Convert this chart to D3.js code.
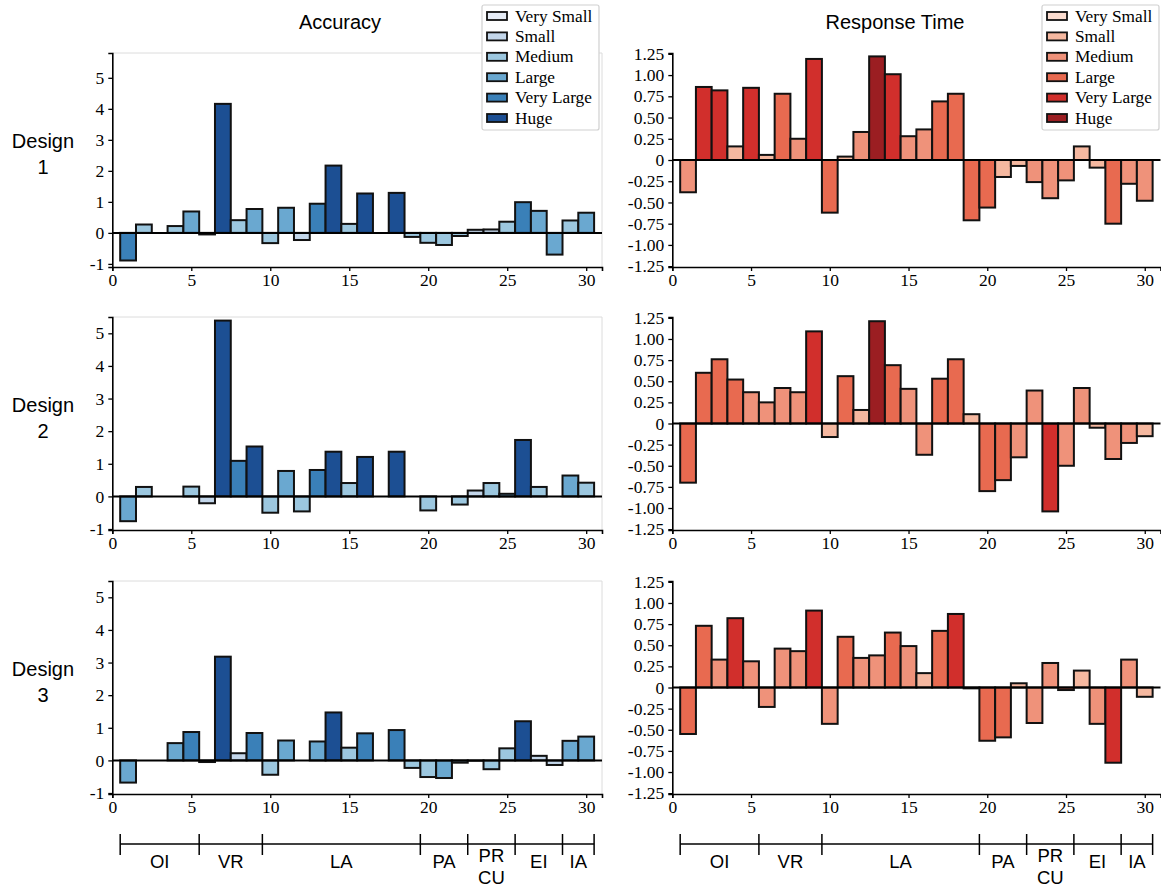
<!DOCTYPE html>
<html>
<head>
<meta charset="utf-8">
<script src="https://cdn.jsdelivr.net/npm/d3@7"></script>
<style>
body { margin: 0; background: #fff; }
</style>
</head>
<body>
<div id="chart"></div>
<script>
"use strict"

// questions 1..30
var items = d3.range(1, 31);

// size classes (index into sizeLabels)
var sizeLabels = ["Very Small", "Small", "Medium", "Large", "Very Large", "Huge"];
var blues = ["#e6ecf6", "#c3d6ea", "#9cc7df", "#6aa8d0", "#3a80b8", "#1c4f93"];
var reds = ["#fbdccf", "#f5b8a0", "#ef927a", "#e86a50", "#d12f2c", "#9b1e22"];

// accuracy effect per design
var acc1 = [-0.89, 0.27, 0, 0.22, 0.69, -0.05, 4.16, 0.41, 0.77, -0.33, 0.81, -0.23, 0.94, 2.17, 0.29,
	1.27, 0, 1.29, -0.13, -0.32, -0.39, -0.1, 0.1, 0.11, 0.36, 0.99, 0.71, -0.7, 0.4, 0.65];
var acc1Size = [4, 2, 0, 2, 3, 2, 5, 2, 3, 2, 3, 1, 4, 5, 2, 5, 0, 5, 2, 2, 2, 2, 1, 1, 2, 4, 3, 3, 2, 3];
var acc2 = [-0.76, 0.29, 0, 0, 0.3, -0.21, 5.39, 1.09, 1.53, -0.5, 0.78, -0.46, 0.81, 1.37, 0.41,
	1.21, 0, 1.37, 0, -0.43, 0, -0.25, 0.18, 0.41, 0.08, 1.73, 0.29, 0, 0.64, 0.42];
var acc2Size = [3, 2, 0, 0, 2, 1, 5, 4, 5, 2, 3, 2, 4, 5, 2, 5, 0, 5, 0, 2, 0, 2, 1, 2, 3, 5, 2, 0, 3, 2];
var acc3 = [-0.68, 0, 0, 0.53, 0.87, -0.05, 3.18, 0.22, 0.84, -0.44, 0.61, 0, 0.58, 1.47, 0.39,
	0.83, 0, 0.93, -0.23, -0.51, -0.54, -0.07, -0.01, -0.27, 0.37, 1.2, 0.14, -0.14, 0.6, 0.73];
var acc3Size = [3, 0, 0, 3, 4, 4, 5, 1, 4, 2, 3, 0, 3, 5, 2, 4, 0, 4, 2, 2, 3, 2, 2, 2, 2, 5, 1, 1, 3, 3];

// response time effect per design
var rt1 = [-0.38, 0.86, 0.82, 0.16, 0.85, 0.06, 0.78, 0.25, 1.19, -0.62, 0.04, 0.33, 1.22, 1.01, 0.28,
	0.36, 0.69, 0.78, -0.71, -0.56, -0.2, -0.07, -0.26, -0.45, -0.24, 0.16, -0.09, -0.75, -0.28, -0.48];
var rt1Size = [2, 4, 4, 1, 4, 1, 3, 2, 4, 3, 1, 2, 5, 4, 2, 2, 3, 3, 3, 3, 1, 1, 2, 2, 2, 1, 1, 3, 2, 2];
var rt2 = [-0.7, 0.6, 0.76, 0.52, 0.37, 0.25, 0.42, 0.37, 1.09, -0.16, 0.56, 0.16, 1.21, 0.69, 0.41,
	-0.37, 0.53, 0.76, 0.11, -0.8, -0.67, -0.4, 0.39, -1.04, -0.5, 0.42, -0.05, -0.42, -0.23, -0.15];
var rt2Size = [3, 3, 3, 3, 2, 2, 2, 2, 4, 1, 3, 1, 5, 3, 2, 2, 3, 3, 1, 3, 3, 2, 2, 4, 2, 2, 1, 2, 2, 1];
var rt3 = [-0.55, 0.73, 0.33, 0.82, 0.31, -0.23, 0.46, 0.43, 0.91, -0.43, 0.6, 0.35, 0.38, 0.65, 0.49,
	0.17, 0.67, 0.87, -0.01, -0.63, -0.59, 0.05, -0.42, 0.29, -0.03, 0.2, -0.43, -0.89, 0.33, -0.11];
var rt3Size = [3, 3, 2, 4, 2, 2, 2, 2, 4, 2, 3, 2, 2, 3, 2, 1, 3, 4, 2, 3, 3, 1, 2, 2, 3, 1, 2, 4, 2, 1];

// question groups along the bottom
var groupNames = ["OI", "VR", "LA", "PA", "PR\nCU", "EI", "IA"];
var groupEdges = [0.5, 5.5, 9.5, 19.5, 22.5, 25.5, 28.5, 30.5];

var accTicks = [-1, 0, 1, 2, 3, 4, 5];
var rtTicks = [-1.25, -1, -0.75, -0.5, -0.25, 0, 0.25, 0.5, 0.75, 1, 1.25];
var xTicks = [0, 5, 10, 15, 20, 25, 30];

var W = 1161, H = 891;
var rows = [[53, 267], [317, 530], [581, 794]];
var serif = "'Liberation Serif', 'Times New Roman', serif";

var svg = d3.select("#chart").append("svg")
	.attr("width", W)
	.attr("height", H)
	.style("font-family", "'Liberation Sans', Arial, sans-serif");

var panels = [
	{vals: acc1, sizes: acc1Size, row: 0, left: true, ydom: [-1.1, 5.8]},
	{vals: acc2, sizes: acc2Size, row: 1, left: true, ydom: [-1.03, 5.5]},
	{vals: acc3, sizes: acc3Size, row: 2, left: true, ydom: [-1.03, 5.5]},
	{vals: rt1, sizes: rt1Size, row: 0, left: false, ydom: [-1.26, 1.26]},
	{vals: rt2, sizes: rt2Size, row: 1, left: false, ydom: [-1.26, 1.26]},
	{vals: rt3, sizes: rt3Size, row: 2, left: false, ydom: [-1.26, 1.26]}
];

var xLeft = d3.scaleLinear().domain([0, 31]).range([112.3, 602]);
var xRight = d3.scaleLinear().domain([0, 31]).range([672.3, 1160.5]);

panels.forEach(function(p) {
	var x = p.left ? xLeft : xRight;
	var colors = p.left ? blues : reds;
	var r = rows[p.row];
	var y = d3.scaleLinear().domain(p.ydom).range([r[1], r[0]]);
	var g = svg.append("g");

	if (p.left) {
		// light top / right frame
		g.append("path")
			.attr("d", "M" + x(0) + "," + r[0] + "H" + x(31) + "V" + r[1])
			.attr("fill", "none")
			.attr("stroke", "#dcdcdc")
			.attr("stroke-width", 1);
	}

	var data = items.map(function(d, i) { return {i: d, v: p.vals[i], s: p.sizes[i]}; })
		.filter(function(d) { return d.v !== 0; });

	g.selectAll("rect.bar").data(data).enter().append("rect")
		.attr("class", "bar")
		.attr("x", function(d) { return x(d.i - 0.5); })
		.attr("width", function(d) { return x(d.i + 0.5) - x(d.i - 0.5); })
		.attr("y", function(d) { return y(Math.max(0, d.v)); })
		.attr("height", function(d) { return Math.abs(y(d.v) - y(0)); })
		.attr("fill", function(d) { return colors[d.s]; })
		.attr("stroke", "#111")
		.attr("stroke-width", 2);

	// zero line
	g.append("line")
		.attr("x1", x(0)).attr("x2", x(31))
		.attr("y1", y(0)).attr("y2", y(0))
		.attr("stroke", "#000")
		.attr("stroke-width", 2);

	var yAxis = d3.axisLeft(y)
		.tickValues(p.left ? accTicks : rtTicks)
		.tickSizeOuter(0)
		.tickSize(4)
		.tickPadding(4)
		.tickFormat(function(d) {
			if (p.left) return String(d);
			return d === 0 ? "0" : d.toFixed(2);
		});
	var ya = g.append("g").attr("transform", "translate(" + x(0) + ",0)").call(yAxis);

	var xAxis = d3.axisBottom(x)
		.tickValues(xTicks)
		.tickSizeOuter(0)
		.tickSize(4)
		.tickPadding(3);
	var xa = g.append("g").attr("transform", "translate(0," + r[1] + ")").call(xAxis);

	[ya, xa].forEach(function(a) {
		a.attr("font-family", serif).attr("font-size", 17.5);
		a.selectAll(".tick text")
			.attr("fill", "#000")
			.style("font-family", serif)
			.style("font-size", "17.5px");
		a.select(".domain").attr("stroke", "#000").attr("stroke-width", 1.6);
		a.selectAll(".tick line").attr("stroke", "#000").attr("stroke-width", 1.3);
	});
});

// titles
svg.append("text").attr("x", 340).attr("y", 29).attr("text-anchor", "middle")
	.attr("font-size", 20).text("Accuracy");
svg.append("text").attr("x", 895).attr("y", 29).attr("text-anchor", "middle")
	.attr("font-size", 20).text("Response Time");

// row labels
rows.forEach(function(r, k) {
	var cy = (r[0] + r[1]) / 2 - 12;
	var t = svg.append("text").attr("x", 43).attr("y", cy).attr("text-anchor", "middle")
		.attr("font-size", 20);
	t.append("tspan").attr("x", 43).attr("dy", 0).text("Design");
	t.append("tspan").attr("x", 43).attr("dy", 26).text(k + 1);
});

// legends
function legend(x0, colors) {
	var lg = svg.append("g").attr("transform", "translate(" + x0 + ",5)");
	lg.append("rect")
		.attr("x", 0).attr("y", 0)
		.attr("width", 117).attr("height", 125)
		.attr("rx", 2)
		.attr("fill", "#fff")
		.attr("stroke", "#d0d0d0")
		.attr("stroke-width", 1.2);
	var e = lg.selectAll("g.e").data(sizeLabels).enter().append("g")
		.attr("transform", function(d, i) { return "translate(0," + (11 + i * 20.4) + ")"; });
	e.append("rect")
		.attr("x", 5).attr("y", -4)
		.attr("width", 20).attr("height", 8)
		.attr("fill", function(d, i) { return colors[i]; })
		.attr("stroke", "#111")
		.attr("stroke-width", 1.8);
	e.append("text")
		.attr("x", 33).attr("y", 5.5)
		.style("font-family", serif)
		.attr("font-size", 17.3)
		.text(function(d) { return d; });
}
legend(482, blues);
legend(1042, reds);

// group bracket axes
[xLeft, xRight].forEach(function(x) {
	var g = svg.append("g");
	var yl = 844;
	g.append("line")
		.attr("x1", x(groupEdges[0])).attr("x2", x(groupEdges[groupEdges.length - 1]))
		.attr("y1", yl).attr("y2", yl)
		.attr("stroke", "#000").attr("stroke-width", 1.5);
	g.selectAll("line.edge").data(groupEdges).enter().append("line")
		.attr("class", "edge")
		.attr("x1", function(d) { return x(d); }).attr("x2", function(d) { return x(d); })
		.attr("y1", yl - 10).attr("y2", yl + 11)
		.attr("stroke", "#000").attr("stroke-width", 1.5);
	groupNames.forEach(function(name, i) {
		var cx = (x(groupEdges[i]) + x(groupEdges[i + 1])) / 2;
		var lines = name.split("\n");
		var t = g.append("text").attr("text-anchor", "middle").attr("font-size", 18.5);
		if (lines.length === 1) {
			t.attr("x", cx).attr("y", 868).text(name);
		} else {
			lines.forEach(function(l, k) {
				t.append("tspan").attr("x", cx).attr("y", 862 + k * 22).text(l);
			});
		}
	});
});
</script>
</body>
</html>
